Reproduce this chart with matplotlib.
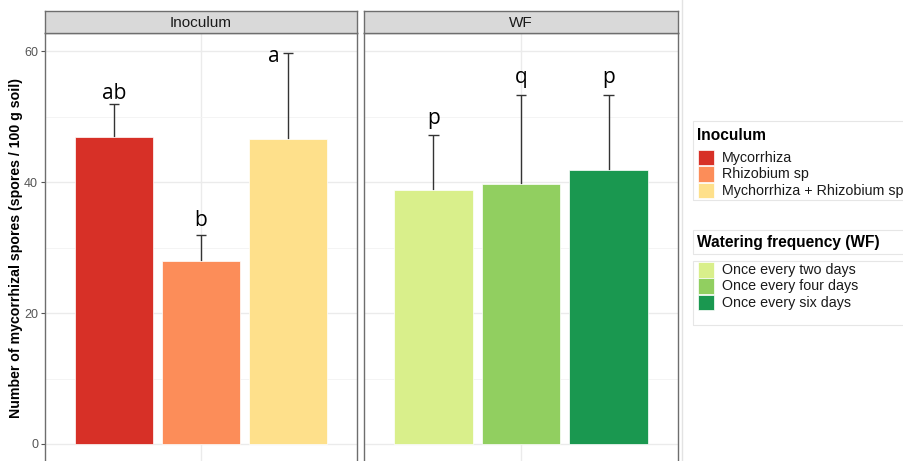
import matplotlib.pyplot as plt
from matplotlib.patches import Rectangle

plt.rcParams['font.family'] = ['Liberation Sans', 'DejaVu Sans']

# mean spore counts, upper error and letter groups per treatment
inoc_labels = ['Mycorrhiza', 'Rhizobium sp', 'Mychorrhiza + Rhizobium sp']
inoc_means = [46.9, 27.9, 46.6]
inoc_err = [5.0, 4.0, 13.2]
inoc_letters = ['ab', 'b', 'a']
inoc_letter_y = [52.7, 33.3, 58.3]
inoc_colors = ['#D73027', '#FC8D59', '#FEE08B']

wf_labels = ['Once every two days', 'Once every four days', 'Once every six days']
wf_means = [38.8, 39.8, 41.8]
wf_err = [8.4, 13.5, 11.5]
wf_letters = ['p', 'q', 'p']
wf_letter_y = [48.9, 55.1, 55.1]
wf_colors = ['#D9EF8B', '#91CF60', '#1A9850']

W, H = 904, 461
fig = plt.figure(figsize=(W / 100, H / 100), dpi=100)


def px_box(x0, x1, y0, y1):
    # pixel box (top-left origin) -> figure fraction [l, b, w, h]
    return [x0 / W, (H - y1) / H, (x1 - x0) / W, (y1 - y0) / H]


panels = [
    ('Inoculum', inoc_means, inoc_err, inoc_letters, inoc_letter_y, inoc_colors, 45, 357),
    ('WF', wf_means, wf_err, wf_letters, wf_letter_y, wf_colors, 364, 678),
]
axes = []
for title, means, errs, letters, letter_y, colors, x0, x1 in panels:
    ax = fig.add_axes(px_box(x0, x1, 33, 463.6))
    xs = [-1, 0, 1]
    ax.set_xlim(-1.79, 1.79)
    ax.set_ylim(-3, 62.8)
    ax.set_yticks([0, 20, 40, 60])
    ax.set_yticks([10, 30, 50], minor=True)
    ax.set_xticks([0])
    ax.grid(True, which='major', color='#EBEBEB', lw=1.0)
    ax.grid(True, which='minor', axis='y', color='#F3F3F3', lw=0.6)
    ax.set_axisbelow(True)
    ax.bar(xs, means, width=0.9, color=colors, edgecolor='white', lw=0.5, zorder=3)
    tops = [m + e for m, e in zip(means, errs)]
    ax.vlines(xs, means, tops, color='#333333', lw=1, zorder=2)
    ax.hlines(tops, [x - 0.06 for x in xs], [x + 0.06 for x in xs],
              color='#333333', lw=1, zorder=2)
    for x, ly, lab in zip(xs, letter_y, letters):
        dx = -0.17 if lab == 'a' else 0
        ax.text(x + dx, ly, lab, ha='center', va='baseline',
                fontsize=15, family=['Open Sans', 'DejaVu Sans'], color='black')
    for s in ax.spines.values():
        s.set_color('#6E6E6E')
        s.set_linewidth(1.0)
    ax.tick_params(axis='x', length=0, labelbottom=False)
    ax.tick_params(axis='y', which='major', length=3, color='#555555',
                   labelsize=9, labelcolor='#555555', pad=2)
    ax.tick_params(axis='y', which='minor', length=0)
    # facet strip
    sax = fig.add_axes(px_box(x0, x1, 11, 33))
    sax.set_xticks([])
    sax.set_yticks([])
    sax.set_facecolor('#D9D9D9')
    for s in sax.spines.values():
        s.set_color('#6E6E6E')
        s.set_linewidth(1.0)
    sax.text(0.5, 0.45, title, ha='center', va='center', fontsize=11,
             color='#1A1A1A', transform=sax.transAxes)
    axes.append(ax)

axes[1].tick_params(axis='y', labelleft=False, length=0)
axes[0].set_ylabel('Number of mycorrhizal spores (spores / 100 g soil)',
                   fontsize=10.2, fontweight='bold', labelpad=1)

# thin divider at plot edge
fig.add_artist(plt.Line2D([682.5 / W] * 2, [0, 1], color='#E3E3E3', lw=1))


def fy(y):
    return (H - y) / H


def legend_block(title, labels, colors, title_y, key_y0, box_top, box_bot, title_box=None):
    if title_box is not None:
        fig.add_artist(Rectangle((693 / W, fy(title_box[1])), 1, (title_box[1] - title_box[0]) / H,
                                 fill=False, ec='#E6E6E6', lw=0.8))
    fig.add_artist(Rectangle((693 / W, fy(box_bot)), 1, (box_bot - box_top) / H,
                             fill=False, ec='#E6E6E6', lw=0.8))
    fig.text(697 / W, fy(title_y), title, fontsize=11.2, fontweight='bold',
             va='center', ha='left', color='black')
    for i, (lab, c) in enumerate(zip(labels, colors)):
        top = key_y0 + i * 16.3
        fig.add_artist(Rectangle((698 / W, fy(top + 15.5)), 15.5 / W, 15.5 / H,
                                 fc=c, ec='white', lw=0.5))
        fig.text(722 / W, fy(top + 8), lab, fontsize=10.3, va='center', ha='left',
                 color='#1A1A1A')


legend_block('Inoculum', inoc_labels, inoc_colors, 135, 150, 121, 200)
legend_block('Watering frequency (WF)', wf_labels, wf_colors, 242, 262, 261, 325,
             title_box=(230, 254))

fig.savefig('out.png', dpi=100)
